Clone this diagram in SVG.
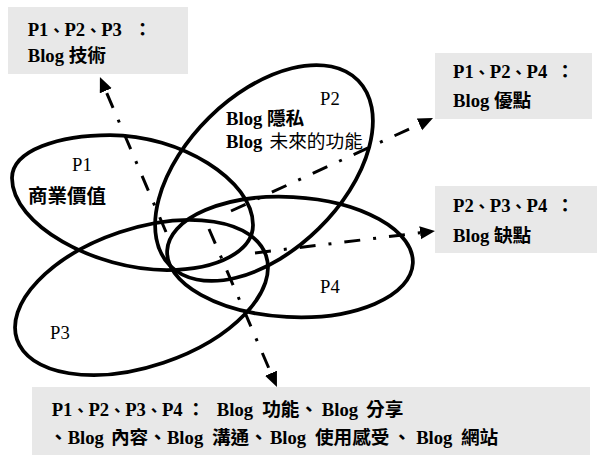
<svg xmlns="http://www.w3.org/2000/svg" width="606" height="457" viewBox="0 0 606 457">
<style>
.box{fill:#e8e8e8;stroke:none}
.t{font-family:"Liberation Serif","Noto Sans CJK TC",serif;font-size:18.67px;font-weight:bold;fill:#000}
.lbl{font-family:"Liberation Serif","Noto Sans CJK TC",serif;font-size:18.67px;fill:#000}
.p{font-size:16px}
.n{font-weight:normal}
.ell{fill:none;stroke:#000;stroke-width:3.75}
.arr{fill:none;stroke:#000;stroke-width:3;stroke-dasharray:16 13 3 13;marker-end:url(#ah)}
</style>
<defs>
<marker id="ah" markerUnits="userSpaceOnUse" markerWidth="16" markerHeight="14" refX="0" refY="7" orient="auto" viewBox="0 0 16 14">
<path d="M0,0.5 L15,7 L0,13.5 Z" fill="#000"/>
</marker>
</defs>
<rect width="606" height="457" fill="#fff"/>

<g id="P1">
<path class="ell" d="M12,178 C12,150 60,135 110,135 C180,135 253,180 253,225 C253,250 220,270 167,270 C95,270 12,225 12,178 Z"/>
<text class="lbl" x="72" y="171">P1</text>
<text class="t" x="28" y="203" style="font-size:19.5px">商業價值</text>
</g>
<g id="P2">
<ellipse class="ell" cx="264" cy="173" rx="132" ry="78" transform="rotate(-44.5 264 173)"/>
<text class="lbl" x="320" y="105">P2</text>
<text class="t" x="226" y="125">Blog 隱私</text>
<text class="t" x="226" y="148">Blog<tspan class="n" x="269.5">未來的功能</tspan></text>
</g>
<g id="P3">
<ellipse class="ell" cx="141.5" cy="297.5" rx="131.4" ry="68.8" transform="rotate(-18.6 141.5 297.5)"/>
<text class="lbl" x="50" y="339">P3</text>
</g>
<g id="P4">
<ellipse class="ell" cx="290" cy="257" rx="123" ry="60" transform="rotate(3 290 257)"/>
<text class="lbl" x="320" y="293">P4</text>
</g>

<g id="box-tech">
<rect class="box" x="8" y="7" width="180" height="67"/>
<text class="t" x="27.7" y="36">P1<tspan class="p">、</tspan>P2<tspan class="p">、</tspan>P3<tspan dx="11.4">：</tspan></text>
<text class="t" x="27.7" y="62">Blog 技術</text>
</g>
<g id="box-adv">
<rect class="box" x="435" y="53" width="157" height="66"/>
<text class="t" x="453" y="78">P1<tspan class="p">、</tspan>P2<tspan class="p">、</tspan>P4<tspan dx="8.6">：</tspan></text>
<text class="t" x="453" y="107">Blog 優點</text>
</g>
<g id="box-dis">
<rect class="box" x="435" y="186" width="162" height="67"/>
<text class="t" x="453" y="212">P2<tspan class="p">、</tspan>P3<tspan class="p">、</tspan>P4<tspan dx="8.6">：</tspan></text>
<text class="t" x="453" y="242">Blog 缺點</text>
</g>
<g id="box-all">
<rect class="box" x="32" y="387" width="558" height="68"/>
<text class="t" x="51.7" y="415.7">P1<tspan class="p">、</tspan>P2<tspan class="p">、</tspan>P3<tspan class="p">、</tspan>P4<tspan dx="3.9">：</tspan><tspan dx="11.6">Blog</tspan><tspan dx="9">功能、</tspan><tspan dx="3.7">Blog</tspan><tspan dx="8">分享</tspan></text>
<text class="t" x="49" y="444">、Blog<tspan dx="7">內容、</tspan>Blog<tspan dx="8.7">溝通、</tspan><tspan dx="2">Blog</tspan><tspan dx="8.7">使用感受</tspan><tspan dx="3">、</tspan><tspan dx="5">Blog</tspan><tspan dx="8.5">網站</tspan></text>
</g>

<g id="connectors">
<path class="arr" d="M166,232 L105.8,90.8"/>
<path class="arr" d="M231,211 L419.4,124.3"/>
<path class="arr" d="M255,253 L420.1,232.8"/>
<path class="arr" d="M209,229 L271,373.2"/>
</g>
</svg>
